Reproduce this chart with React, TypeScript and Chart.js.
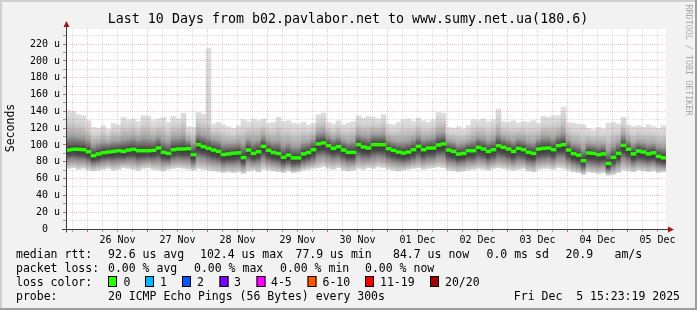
import React, { useEffect, useRef } from 'react';
import { Chart, registerables } from 'chart.js';

Chart.register(...registerables);

// ---------------- text ----------------
const TITLE = 'Last 10 Days from b02.pavlabor.net to www.sumy.net.ua(180.6)';
const Y_TITLE = 'Seconds';
const WATERMARK = 'RRDTOOL / TOBI OETIKER';

// ---------------- time axis ----------------
// hours after 25 Nov 00:00 (graph ends Fri Dec 5 15:23:19, spans 10 days)
const START_HOUR = 15 + 23 / 60 + 19 / 3600;
const SPAN_HOURS = 240;
const BIN_HOURS = 2;
const dayLabels = ['26 Nov', '27 Nov', '28 Nov', '29 Nov', '30 Nov', '01 Dec', '02 Dec', '03 Dec', '04 Dec', '05 Dec'];

// ---------------- value axis (microseconds) ----------------
const Y_MAX = 238;
const yTickValues = [0, 10, 20, 30, 40, 50, 60, 70, 80, 90, 100, 110, 120, 130, 140, 150, 160, 170, 180, 190, 200, 210, 220, 230];

// ---------------- series (us), one value per 2-hour bin ----------------
const medianRtt = [
  94.0, 94.8, 94.8, 94.4, 92.0, 87.3, 89.3, 90.8, 91.6, 92.4,
  93.2, 92.4, 94.0, 94.8, 93.2, 93.2, 93.2, 93.6, 96.4, 91.2,
  90.0, 94.4, 95.2, 95.2, 95.6, 88.5, 100.4, 98.0, 96.0, 94.0,
  92.4, 88.6, 89.4, 90.2, 90.6, 85.0, 94.0, 90.0, 92.0, 98.3,
  93.6, 91.0, 89.8, 85.3, 88.0, 84.6, 84.6, 89.4, 91.0, 94.4,
  101.2, 102.4, 99.2, 96.0, 98.0, 94.0, 91.2, 91.2, 100.4, 97.6,
  96.4, 100.4, 100.4, 100.4, 95.6, 93.6, 91.6, 90.4, 91.6, 94.4,
  98.4, 94.4, 96.4, 96.4, 100.0, 101.2, 94.0, 92.4, 89.2, 90.0,
  93.2, 93.2, 97.2, 95.2, 92.4, 94.4, 99.2, 97.2, 95.2, 92.4,
  96.0, 94.4, 91.2, 90.0, 95.2, 96.0, 96.4, 94.4, 99.2, 100.4,
  94.0, 89.7, 88.0, 81.3, 90.5, 90.0, 88.5, 89.4, 78.0, 85.3,
  90.0, 99.6, 95.0, 89.4, 92.8, 91.6, 89.4, 90.6, 86.5, 84.7,
];
// highest ping of the bin (top of the smoke)
const smokeHigh = [
  141, 140, 136, 135, 129, 121, 120, 123, 119, 126,
  124, 133, 130, 131, 128, 135, 134, 129, 131, 133,
  127, 134, 131, 138, 122, 121, 139, 137, 215, 125,
  127, 124, 122, 120, 123, 130, 128, 131, 129, 131,
  126, 127, 133, 128, 129, 126, 125, 127, 124, 126,
  136, 138, 127, 125, 129, 124, 126, 128, 135, 132,
  134, 133, 131, 136, 125, 124, 127, 130, 131, 128,
  132, 129, 127, 130, 139, 138, 121, 120, 122, 119,
  123, 130, 129, 131, 128, 130, 143, 128, 127, 129,
  126, 128, 127, 129, 126, 134, 133, 135, 135, 145,
  127, 126, 125, 124, 120, 118, 121, 119, 126, 127,
  125, 133, 124, 122, 123, 121, 124, 122, 120, 123,
];
// upper edge of the dense part of the smoke
const smokeUpper = [
  111, 111, 110, 109, 106, 100, 102, 104, 103, 105,
  105, 107, 108, 109, 107, 109, 108, 107, 110, 106,
  104, 109, 109, 111, 106, 102, 114, 112, 110, 107,
  106, 102, 102, 102, 103, 101, 107, 104, 106, 111,
  106, 104, 105, 100, 102, 99, 99, 103, 104, 107,
  115, 116, 111, 108, 110, 106, 104, 105, 113, 111,
  110, 113, 113, 114, 107, 105, 104, 104, 105, 107,
  111, 107, 108, 109, 114, 115, 105, 104, 101, 102,
  104, 106, 109, 108, 105, 107, 113, 109, 107, 105,
  108, 107, 104, 103, 107, 110, 110, 108, 112, 115,
  106, 102, 101, 96, 102, 101, 100, 101, 94, 99,
  103, 112, 106, 101, 104, 103, 101, 102, 99, 98,
];
// lower edge of the dense part of the smoke
const smokeLower = [
  82, 83, 82, 82, 80, 77, 78, 80, 81, 80,
  81, 81, 82, 82, 80, 81, 82, 81, 82, 79,
  79, 82, 83, 82, 82, 77, 85, 84, 82, 80,
  79, 76, 77, 77, 78, 74, 80, 78, 79, 84,
  80, 78, 77, 74, 76, 73, 74, 77, 79, 81,
  86, 87, 85, 83, 84, 81, 79, 79, 85, 83,
  83, 85, 86, 85, 82, 80, 79, 78, 79, 81,
  84, 81, 83, 83, 86, 86, 80, 79, 77, 78,
  80, 80, 83, 82, 79, 81, 84, 83, 81, 79,
  82, 81, 78, 77, 81, 82, 83, 81, 85, 85,
  80, 77, 75, 71, 77, 76, 75, 76, 69, 73,
  77, 84, 81, 77, 79, 78, 77, 78, 75, 74,
];
// lowest ping of the bin (bottom of the smoke)
const smokeLow = [
  72, 73, 71, 72, 70, 69, 70, 71, 72, 70,
  71, 73, 72, 71, 70, 72, 73, 71, 70, 69,
  71, 72, 73, 72, 71, 70, 72, 71, 70, 69,
  68, 67, 68, 67, 68, 66, 69, 70, 68, 71,
  70, 69, 68, 67, 69, 67, 68, 70, 71, 72,
  73, 74, 72, 71, 73, 70, 69, 70, 72, 71,
  73, 72, 74, 73, 71, 70, 69, 70, 71, 72,
  73, 71, 72, 73, 74, 73, 70, 69, 68, 69,
  70, 71, 72, 71, 70, 72, 73, 72, 71, 70,
  71, 72, 69, 68, 71, 72, 72, 71, 73, 72,
  70, 68, 67, 65, 68, 67, 66, 67, 64, 65,
  67, 70, 69, 68, 70, 69, 68, 69, 67, 68,
];

// ---------------- legend text ----------------
const rttLabel = 'median rtt:';
const rttStats = ['92.6 us avg', '102.4 us max', '77.9 us min', '84.7 us now', '0.0 ms sd', '20.9', 'am/s'];
const lossLabel = 'packet loss:';
const lossStats = ['0.00 % avg', '0.00 % max', '0.00 % min', '0.00 % now'];
const lossColorLabel = 'loss color:';
const lossBuckets = ['0', '1', '2', '3', '4-5', '6-10', '11-19', '20/20'];
const lossColors = ['#26ff00', '#00b8ff', '#0059ff', '#7e00ff', '#ff00fe', '#ff5500', '#ff0000', '#a10000'];
const probeLabel = 'probe:';
const probeText = '20 ICMP Echo Pings (56 Bytes) every 300s';
const stampText = 'Fri Dec  5 15:23:19 2025';

// ---------------- layout / style ----------------
const W = 697;
const H = 310;
const PAD = { left: 0, top: 29, right: 31, bottom: 61 };
const Y_AXIS_W = 66;
const X_AXIS_H = 20;
const FONT = '"DejaVu Sans Mono", "Liberation Mono", monospace';
const BG = '#f2f2f2';
const AXIS_COLOR = '#3c3c3c';
const ARROW_COLOR = '#a01818';
const MAJOR = 'rgba(225, 70, 70, 0.32)';
const MINOR = 'rgba(120, 120, 120, 0.26)';
const MAJOR_TICK = 'rgba(200, 40, 40, 0.7)';
const MINOR_TICK = 'rgba(110, 110, 110, 0.6)';
const MEDIAN_HALF = 1.7;
const LEFT_COL = 16;
const VALUE_COL = 108;
const rttStatX = [108, 200, 295.5, 393, 486.5, 565.5, 614.5];
const lossStatX = [108, 194, 280, 365];
const boxX = [108, 145, 182, 219.5, 256.5, 307.5, 365, 430];
const bucketTextX = [123.5, 160, 197, 234, 271, 322.5, 380, 445];
const rowBase = [258, 272, 286, 300];

const binCenter = (i: number) => START_HOUR + BIN_HOURS * i + BIN_HOURS / 2;

const xTicks: number[] = [];
for (let h = Math.ceil(START_HOUR / 6) * 6; h <= START_HOUR + SPAN_HOURS; h += 6) xTicks.push(h);

function smokeFill(c: any) {
  const chart = c.chart;
  const i = c.dataIndex;
  if (i == null || !chart.chartArea || !chart.scales.y) return '#bbbbbb';
  const y = chart.scales.y;
  const hiPx = y.getPixelForValue(smokeHigh[i]);
  const loPx = y.getPixelForValue(smokeLow[i]);
  const upPx = y.getPixelForValue(smokeUpper[i]);
  const dnPx = y.getPixelForValue(smokeLower[i]);
  const mPx = y.getPixelForValue(medianRtt[i]);
  const span = Math.max(1, loPx - hiPx);
  const off = (p: number) => Math.min(1, Math.max(0, (p - hiPx) / span));
  const lightEnd = upPx - Math.min(0.6 * (upPx - hiPx), 14);
  const g = chart.ctx.createLinearGradient(0, hiPx, 0, loPx);
  g.addColorStop(0, '#e0e0e0');
  g.addColorStop(off(lightEnd), '#d2d2d2');
  g.addColorStop(off(upPx), '#a2a2a2');
  g.addColorStop((off(upPx) + off(mPx)) / 2, '#6c6c6c');
  g.addColorStop(off(mPx), '#363636');
  g.addColorStop((off(mPx) + off(dnPx)) / 2, '#4a4a4a');
  g.addColorStop(off(dnPx), '#8e8e8e');
  g.addColorStop(1, '#d8d8d8');
  return g;
}

const framePlugin = {
  id: 'rrdFrame',
  beforeDraw(chart: any) {
    const ctx = chart.ctx;
    const a = chart.chartArea;
    ctx.save();
    ctx.fillStyle = BG;
    ctx.fillRect(0, 0, W, H);
    ctx.fillStyle = '#cfcfcf';
    ctx.fillRect(0, 0, W, 2);
    ctx.fillRect(0, 0, 2, H);
    ctx.fillStyle = '#9e9e9e';
    ctx.fillRect(0, H - 2, W, 2);
    ctx.fillRect(W - 2, 0, 2, H);
    ctx.fillStyle = '#ffffff';
    ctx.fillRect(a.left, a.top, a.right - a.left, a.bottom - a.top);
    ctx.restore();
  },
  afterDraw(chart: any) {
    const ctx = chart.ctx;
    const a = chart.chartArea;
    const L = Math.round(a.left) + 0.5;
    const B = Math.round(a.bottom) + 0.5;
    const T = Math.round(a.top);
    const R = Math.round(a.right);
    ctx.save();
    // axes
    ctx.strokeStyle = AXIS_COLOR;
    ctx.lineWidth = 1;
    ctx.beginPath();
    ctx.moveTo(L, B + 3);
    ctx.lineTo(L, T - 3);
    ctx.moveTo(L - 4.5, B);
    ctx.lineTo(R + 4, B);
    ctx.stroke();
    ctx.fillStyle = ARROW_COLOR;
    ctx.beginPath();
    ctx.moveTo(L, T - 8);
    ctx.lineTo(L - 3, T - 2);
    ctx.lineTo(L + 3, T - 2);
    ctx.closePath();
    ctx.fill();
    ctx.beginPath();
    ctx.moveTo(R + 8, B);
    ctx.lineTo(R + 2, B - 3);
    ctx.lineTo(R + 2, B + 3);
    ctx.closePath();
    ctx.fill();

    // title
    ctx.fillStyle = '#000';
    ctx.textBaseline = 'alphabetic';
    ctx.font = `13.3px ${FONT}`;
    ctx.textAlign = 'center';
    ctx.fillText(TITLE, 348, 23);

    // y title
    ctx.save();
    ctx.translate(11, (a.top + a.bottom) / 2 - 1);
    ctx.rotate(-Math.PI / 2);
    ctx.font = `11.5px ${FONT}`;
    ctx.textAlign = 'center';
    ctx.textBaseline = 'middle';
    ctx.fillText(Y_TITLE, 0, 0);
    ctx.restore();

    // watermark
    ctx.save();
    ctx.translate(688, 60);
    ctx.rotate(Math.PI / 2);
    ctx.font = `8.4px ${FONT}`;
    ctx.fillStyle = '#a8a8a8';
    ctx.textAlign = 'center';
    ctx.textBaseline = 'middle';
    ctx.fillText(WATERMARK, 0, 0);
    ctx.restore();

    // legend
    ctx.font = `11.5px ${FONT}`;
    ctx.textAlign = 'left';
    ctx.textBaseline = 'alphabetic';
    ctx.fillStyle = '#000';
    ctx.fillText(rttLabel, LEFT_COL, rowBase[0]);
    rttStats.forEach((s, k) => ctx.fillText(s, rttStatX[k], rowBase[0]));
    ctx.fillText(lossLabel, LEFT_COL, rowBase[1]);
    lossStats.forEach((s, k) => ctx.fillText(s, lossStatX[k], rowBase[1]));
    ctx.fillText(lossColorLabel, LEFT_COL, rowBase[2]);
    lossBuckets.forEach((s, k) => {
      ctx.fillStyle = lossColors[k];
      ctx.fillRect(boxX[k], rowBase[2] - 10, 9, 11);
      ctx.strokeStyle = '#000';
      ctx.lineWidth = 1;
      ctx.strokeRect(boxX[k] + 0.5, rowBase[2] - 9.5, 8, 10);
      ctx.fillStyle = '#000';
      ctx.fillText(s, bucketTextX[k], rowBase[2]);
    });
    ctx.fillText(probeLabel, LEFT_COL, rowBase[3]);
    ctx.fillText(probeText, VALUE_COL, rowBase[3]);
    ctx.textAlign = 'right';
    ctx.fillText(stampText, 680, rowBase[3]);
    ctx.restore();
  },
};

const barCommon = {
  grouped: false,
  barPercentage: 1,
  categoryPercentage: 1,
  borderWidth: 0,
  borderSkipped: false,
};

export default function App() {
  const ref = useRef<HTMLCanvasElement>(null);
  useEffect(() => {
    document.body.style.margin = '0';
    const canvas = ref.current;
    if (!canvas) return;
    const tickFont = { family: FONT, size: 10 };
    const chart = new Chart(canvas, {
      type: 'bar',
      data: {
        datasets: [
          {
            label: 'median rtt',
            order: 1,
            data: medianRtt.map((m, i) => ({ x: binCenter(i), y: [m - MEDIAN_HALF, m + MEDIAN_HALF] })),
            backgroundColor: lossColors[0],
            ...barCommon,
          } as any,
          {
            label: 'smoke',
            order: 2,
            data: smokeLow.map((lo, i) => ({ x: binCenter(i), y: [lo, smokeHigh[i]] })),
            backgroundColor: smokeFill,
            ...barCommon,
          } as any,
        ],
      },
      options: {
        animation: false,
        responsive: false,
        events: [],
        layout: { padding: PAD },
        plugins: { legend: { display: false }, tooltip: { enabled: false }, title: { display: false } },
        scales: {
          x: {
            type: 'linear',
            min: START_HOUR,
            max: START_HOUR + SPAN_HOURS,
            offset: false,
            afterBuildTicks: (s: any) => {
              s.ticks = xTicks.map((v) => ({ value: v }));
            },
            afterFit: (s: any) => {
              s.height = X_AXIS_H;
            },
            grid: {
              offset: false,
              z: 1,
              lineWidth: 1,
              tickLength: 3,
              color: (c: any) => (c.tick && c.tick.value % 24 === 0 ? MAJOR : MINOR),
              tickColor: (c: any) => (c.tick && c.tick.value % 24 === 0 ? MAJOR_TICK : MINOR_TICK),
            },
            border: { display: false, dash: [1, 1] },
            ticks: {
              autoSkip: false,
              maxRotation: 0,
              minRotation: 0,
              padding: 2,
              color: '#000',
              font: tickFont,
              callback: (v: any) => {
                const n = Number(v);
                if (n % 24 !== 12) return '';
                return dayLabels[(n - 36) / 24] ?? '';
              },
            },
          },
          y: {
            type: 'linear',
            min: 0,
            max: Y_MAX,
            afterBuildTicks: (s: any) => {
              s.ticks = yTickValues.map((v) => ({ value: v }));
            },
            afterFit: (s: any) => {
              s.width = Y_AXIS_W;
            },
            grid: {
              z: 1,
              lineWidth: 1,
              tickLength: 3,
              color: (c: any) => (c.tick && c.tick.value % 20 === 0 ? MAJOR : MINOR),
              tickColor: (c: any) => (c.tick && c.tick.value % 20 === 0 ? MAJOR_TICK : MINOR_TICK),
            },
            border: { display: false, dash: [1, 1] },
            ticks: {
              autoSkip: false,
              padding: 3,
              color: '#000',
              font: tickFont,
              callback: (v: any) => {
                const n = Number(v);
                if (n === 0) return '0  ';
                return n % 20 === 0 ? `${n} u` : '';
              },
            },
          },
        },
      } as any,
      plugins: [framePlugin],
    });
    return () => chart.destroy();
  }, []);
  return (
    <div style={{ position: 'absolute', left: 0, top: 0, width: W, height: H }}>
      <canvas ref={ref} width={W} height={H} style={{ display: 'block', width: W, height: H }} />
    </div>
  );
}
